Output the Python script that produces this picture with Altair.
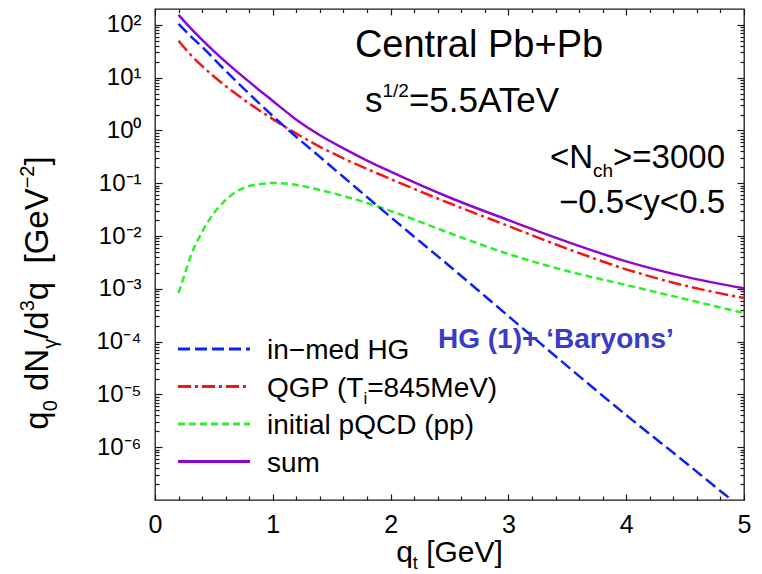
import altair as alt
import pandas as pd

# ---------------------------------------------------------------- data
# transverse momentum q_t [GeV] and photon yields q0 dN/d^3q [GeV^-2]
q_grid = [0.2, 0.3, 0.4, 0.6, 0.8, 1.0, 1.2, 1.4, 1.6, 1.8, 2.0, 2.5, 3.0, 3.5, 4.0, 4.5, 5.0]
sum_yield = [155, 87.7, 52.0, 19.9, 8.3, 3.62, 1.60, 0.81, 0.457, 0.269, 0.166,
             0.0537, 0.0200, 0.00776, 0.00331, 0.00170, 0.00102]
qgp_yield = [50.1, 27.5, 16.6, 6.92, 3.24, 1.64, 0.871, 0.490, 0.295, 0.186, 0.120,
             0.0417, 0.0155, 0.00575, 0.00234, 0.00115, 0.000668]

hg_q = [0.2, 0.3, 0.4, 0.6, 0.8, 1.0, 1.2, 1.4, 1.6, 1.8, 2.0, 2.5, 3.0, 3.5, 4.0, 4.5, 4.9, 5.0]
hg_yield = [104, 61.8, 38.3, 13.4, 4.92, 1.88, 0.753, 0.315, 0.131, 0.0548, 0.0229,
            0.00270, 3.04e-4, 3.43e-5, 4.05e-6, 5.2e-7, 9.9e-8, 6.7e-8]

pqcd_q = [0.2, 0.25, 0.3, 0.4, 0.5, 0.6, 0.7, 0.8, 0.9, 1.0, 1.2, 1.4, 1.6, 1.8, 2.0,
          2.5, 3.0, 3.5, 4.0, 4.5, 5.0]
pqcd_yield = [0.00083, 0.00182, 0.0040, 0.0119, 0.0273, 0.0481, 0.0713, 0.0887, 0.0968,
              0.101, 0.0927, 0.0745, 0.0573, 0.0422, 0.0298, 0.0114, 0.00456, 0.00217,
              0.00118, 0.00064, 0.000347]

x_major = [0, 1, 2, 3, 4, 5]
x_minor = [0.2, 0.4, 0.6, 0.8, 1.2, 1.4, 1.6, 1.8, 2.2, 2.4, 2.6, 2.8,
           3.2, 3.4, 3.6, 3.8, 4.2, 4.4, 4.6, 4.8]
y_decades = [1e-6, 1e-5, 1e-4, 1e-3, 1e-2, 1e-1, 1, 10, 100]
y_minor = [m * 10.0 ** k for k in range(-7, 3) for m in range(2, 10) if m * 10.0 ** k < 199]

# ---------------------------------------------------------------- styling
FONT = "Liberation Sans"
INK = "#1a1a1a"
W, H = 589, 491

STYLE = {
    "hg": dict(color="#0b22f2", strokeDash=[12, 5]),
    "qgp": dict(color="#f21616", strokeDash=[13, 4, 3, 4]),
    "pqcd": dict(color="#2cf02c", strokeDash=[7, 4]),
    "sum": dict(color="#8c06d4"),
}

xs = alt.Scale(domain=[0, 5], nice=False, zero=False)
ys = alt.Scale(type="log", domain=[1e-7, 10 ** 2.3], nice=False)

frames = {
    "hg": pd.DataFrame({"q": hg_q, "v": hg_yield}),
    "qgp": pd.DataFrame({"q": q_grid, "v": qgp_yield}),
    "pqcd": pd.DataFrame({"q": pqcd_q, "v": pqcd_yield}),
    "sum": pd.DataFrame({"q": q_grid, "v": sum_yield}),
}

layers = []

# curves
for key in ["pqcd", "qgp", "hg", "sum"]:
    layers.append(
        alt.Chart(frames[key])
        .mark_line(strokeWidth=2.5, clip=True, interpolate="monotone", **STYLE[key])
        .encode(x=alt.X("q:Q", scale=xs, axis=None), y=alt.Y("v:Q", scale=ys, axis=None))
    )


def axis_layer(ax, ay):
    return (
        alt.Chart(frames["sum"])
        .mark_point(opacity=0)
        .encode(x=alt.X("q:Q", scale=xs, axis=ax), y=alt.Y("v:Q", scale=ys, axis=ay))
    )


exp_expr = (
    "datum.value > 50 ? '\u00b2' : datum.value > 5 ? '\u00b9' : datum.value > 0.5 ? '\u2070' : "
    "datum.value > 0.05 ? '\u207b\u00b9' : datum.value > 0.005 ? '\u207b\u00b2' : "
    "datum.value > 5e-4 ? '\u207b\u00b3' : datum.value > 5e-5 ? '\u207b\u2074' : "
    "datum.value > 5e-6 ? '\u207b\u2075' : '\u207b\u2076'"
)

common = dict(grid=False, title=None, domain=False, tickColor=INK, tickWidth=1.2)

# tick labels
layers.append(axis_layer(
    alt.Axis(orient="bottom", values=x_major, format="d", labelFontSize=25, labelFont=FONT,
             labelColor="black", labelPadding=12, labelFlush=False, ticks=False, tickSize=0,
             **common),
    alt.Axis(orient="left", values=y_decades, labelExpr="'10' + (" + exp_expr + ")",
             labelFontSize=24, labelFont=FONT, labelColor="black", labelPadding=14,
             labelFlush=False, ticks=False, tickSize=0, **common),
))


def inward(orient, values, size):
    return alt.Axis(orient=orient, values=values, labels=False, ticks=True,
                    tickSize=size, offset=-size, **common)


# inward ticks on all four sides
layers.append(axis_layer(inward("bottom", x_major, 6), inward("left", y_decades, 7)))
layers.append(axis_layer(inward("bottom", x_minor, 4), inward("left", y_minor, 4)))
layers.append(axis_layer(inward("top", x_major, 6), inward("right", y_decades, 7)))
layers.append(axis_layer(inward("top", x_minor, 3.5), inward("right", y_minor, 4)))

# ---------------------------------------------------------------- text helpers
ARIAL = {" ": 278, "(": 333, ")": 333, "+": 584, ".": 278, "/": 278, "<": 584, "=": 584,
         ">": 584, "[": 278, "]": 278, "\u2212": 584, "A": 667, "C": 722, "D": 722,
         "G": 778, "H": 722, "M": 833, "N": 722, "P": 667, "Q": 778, "T": 611, "V": 667,
         "a": 556, "b": 556, "c": 500, "d": 556, "e": 556, "h": 556, "i": 222, "l": 222,
         "m": 833, "n": 556, "o": 556, "p": 556, "q": 556, "r": 333, "s": 500, "t": 278,
         "u": 556, "y": 500, "\u03b3": 500}


def text_width(s, size):
    return sum(ARIAL.get(c, 556) for c in s) * size / 1000.0


ONE = alt.Data(values=[{"k": 0}])


def rich(pieces, x, y, size, anchor="left", angle=0, color="black", ratio=0.6,
         sub_drop=0.28, sup_rise=0.42):
    """Runs of normal / sub / sup text laid out one after another."""
    runs = []
    for txt, kind in pieces:
        s = size if kind == "n" else round(size * ratio)
        shift = 0 if kind == "n" else (sub_drop * size if kind == "sub" else -sup_rise * size)
        runs.append((txt, s, shift, text_width(txt, s)))
    total = sum(r[3] for r in runs)
    pos = {"left": 0, "center": -total / 2, "right": -total}[anchor]
    out = []
    for txt, s, shift, w in runs:
        # text marks trim outer blanks, so leading blanks become a plain advance
        body = txt.lstrip(" ")
        lead = text_width(txt[: len(txt) - len(body)], s)
        at = pos + lead
        if angle == 0:
            px, py = x + at, y + shift
        else:
            px, py = x + shift, y - at
        out.append(
            alt.Chart(ONE)
            .mark_text(text=body.rstrip(" ").replace(" ", "\u00a0"), fontSize=s, font=FONT,
                       color=color, align="left", baseline="alphabetic", angle=angle)
            .encode(x=alt.value(px), y=alt.value(py))
        )
        pos += w
    return out


# annotations
layers += rich([("Central Pb+Pb", "n")], 324, 48, 38, anchor="center")
layers += rich([("s", "n"), ("1/2", "sup"), ("=5.5ATeV", "n")], 210, 103, 35, ratio=0.54)
layers += rich([("<N", "n"), ("ch", "sub"), (">=3000", "n")], 570, 159, 33, anchor="right",
               ratio=0.58)
layers += rich([("\u22120.5<y<0.5", "n")], 570, 204, 33, anchor="right")
layers.append(
    alt.Chart(ONE)
    .mark_text(text="HG (1)+ \u2018Baryons\u2019", fontSize=28, font=FONT, fontWeight="bold",
               color="#3a3cc6", align="left", baseline="alphabetic")
    .encode(x=alt.value(283), y=alt.value(339))
)

# legend
legend_rows = [
    ("hg", [("in\u2212med HG", "n")]),
    ("qgp", [("QGP (T", "n"), ("i", "sub"), ("=845MeV)", "n")]),
    ("pqcd", [("initial pQCD (pp)", "n")]),
    ("sum", [("sum", "n")]),
]
for i, (key, pieces) in enumerate(legend_rows):
    ry = 340 + 37.5 * i
    layers.append(
        alt.Chart(ONE)
        .mark_rule(strokeWidth=2.8, **STYLE[key])
        .encode(x=alt.value(23), x2=alt.value(95), y=alt.value(ry))
    )
    layers += rich(pieces, 112, ry + 10, 28)

# axis titles
layers += rich([("q", "n"), ("t", "sub"), (" [GeV]", "n")], 294.5, 553, 30, anchor="center",
               sub_drop=0.22)
layers += rich([("q", "n"), ("0", "sub"), (" dN", "n"), ("\u03b3", "sub"), ("/d", "n"),
                ("3", "sup"), ("q  [GeV", "n"), ("\u22122", "sup"), ("]", "n")],
               -107, 284, 33, anchor="center", angle=270, ratio=0.6)

chart = (
    alt.layer(*layers)
    .resolve_axis(x="independent", y="independent")
    .properties(width=W, height=H, autosize=alt.AutoSizeParams(type="none"),
                padding={"left": 155, "top": 9, "right": 18, "bottom": 74},
                background="white")
    .configure_view(stroke=INK, strokeWidth=1.3)
)

chart.save("out.html", embed_options={"renderer": "svg", "actions": False})
